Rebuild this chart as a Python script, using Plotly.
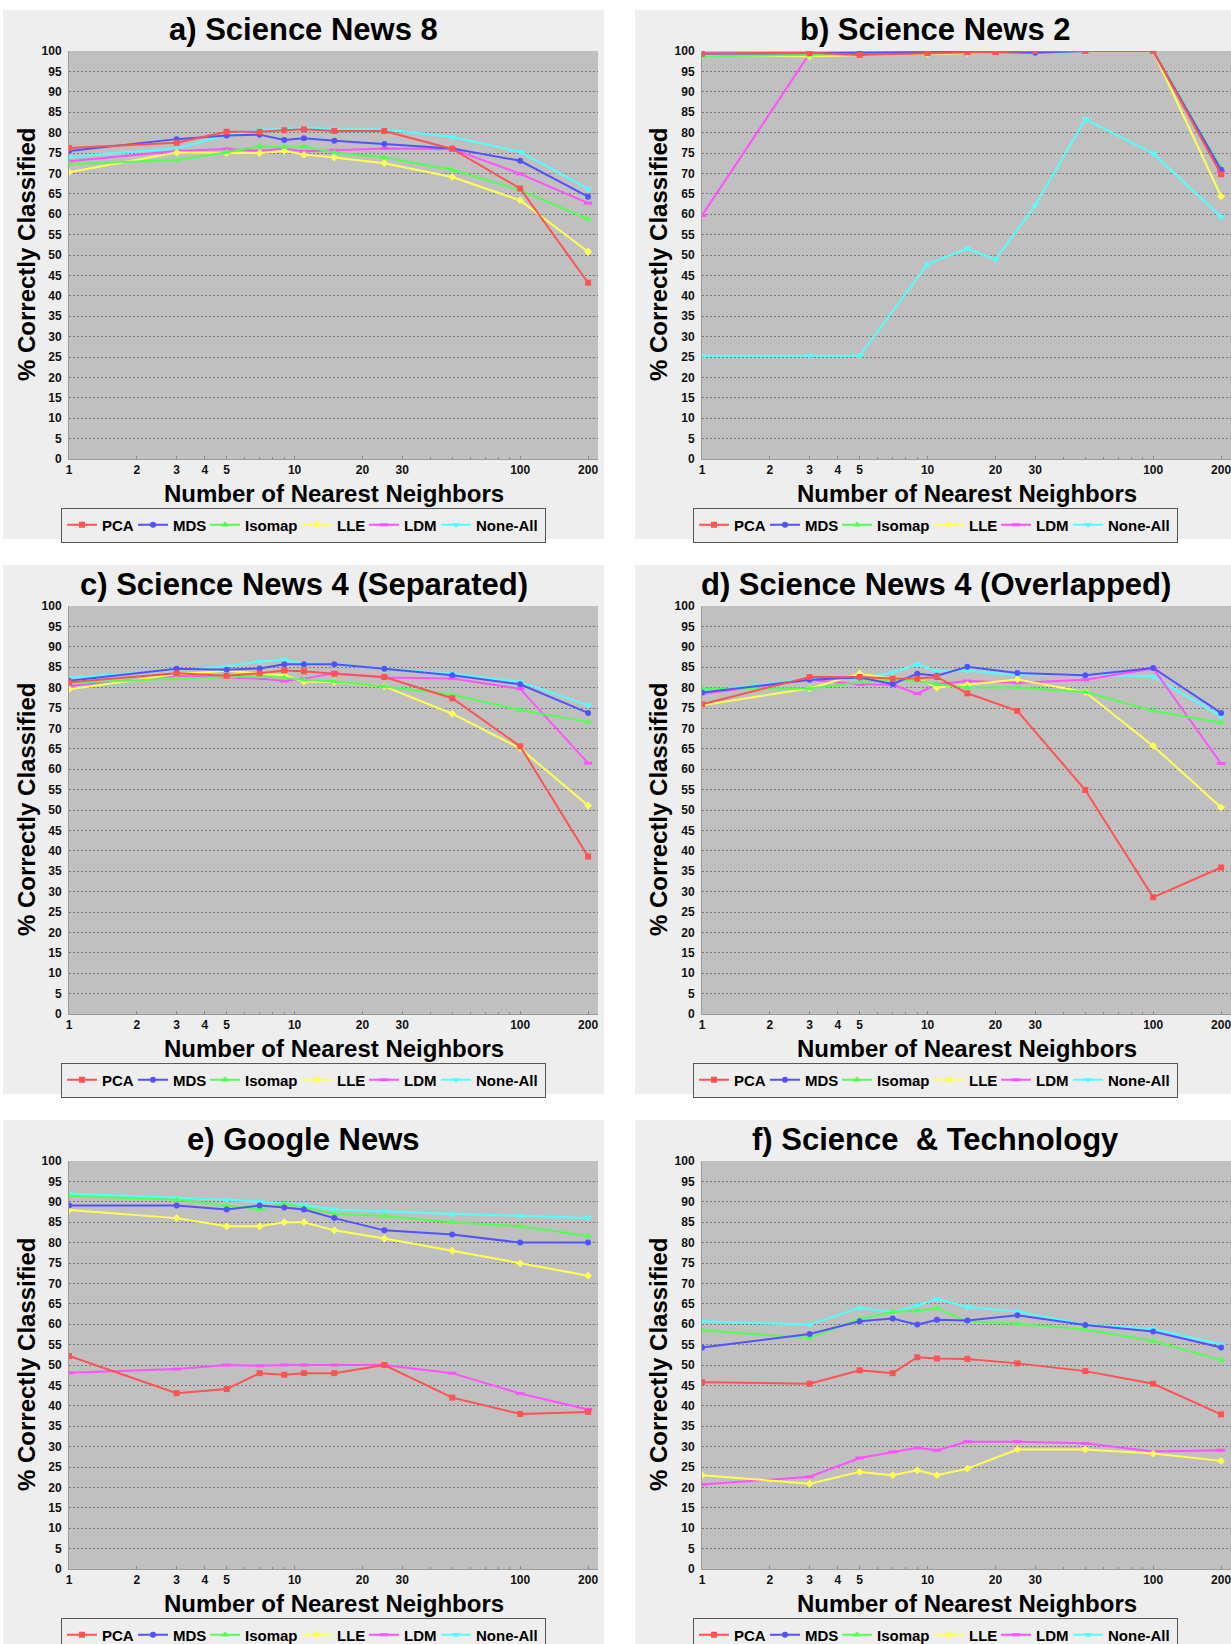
import plotly.graph_objects as go

# ---------------- data ----------------
titles = ["a) Science News 8", "b) Science News 2", "c) Science News 4 (Separated)",
          "d) Science News 4 (Overlapped)", "e) Google News", "f) Science  & Technology"]
methods = ["PCA", "MDS", "Isomap", "LLE", "LDM", "None-All"]

x_std = [1, 3, 5, 7, 9, 11, 15, 25, 50, 100, 200]
x_sn2 = [1, 3, 5, 10, 15, 20, 30, 50, 100, 200]

# a) Science News 8
a_pca = [76.2, 77.5, 80.2, 80.2, 80.6, 80.8, 80.4, 80.4, 76.0, 66.3, 43.2]
a_mds = [75.5, 78.4, 79.3, 79.5, 78.2, 78.6, 78.0, 77.2, 76.1, 73.1, 64.3]
a_iso = [72.3, 73.3, 75.2, 76.6, 76.5, 76.6, 75.1, 73.9, 70.9, 65.9, 58.8]
a_lle = [70.3, 75.1, 75.0, 75.0, 75.5, 74.6, 73.9, 72.5, 69.1, 63.4, 50.8]
a_ldm = [73.0, 75.5, 76.0, 75.5, 76.1, 75.4, 75.7, 76.1, 76.0, 69.9, 62.7]
a_none = [74.1, 76.1, 79.4, 80.7, 80.9, 81.1, 80.8, 80.8, 78.9, 75.3, 66.2]

# b) Science News 2
b_pca = [99.4, 99.6, 99.0, 99.5, 99.7, 99.7, 100, 100, 100, 69.8]
b_mds = [99.3, 99.5, 99.7, 99.7, 99.8, 99.7, 99.6, 100, 100, 70.9]
b_iso = [98.7, 99.0, 99.2, 99.4, 99.5, 99.6, 99.8, 100, 100, 71.3]
b_lle = [99.0, 98.7, 99.0, 99.3, 99.5, 99.6, 99.8, 100, 100, 64.4]
b_ldm = [59.7, 99.4, 99.2, 99.5, 99.6, 99.7, 99.8, 100, 100, 70.5]
b_none = [25.3, 25.3, 25.3, 47.8, 51.6, 48.9, 62.2, 83.3, 74.9, 59.3]

# c) Science News 4 (Separated)
c_pca = [81.3, 83.5, 82.9, 83.5, 84.2, 84.0, 83.4, 82.6, 77.4, 65.6, 38.6]
c_mds = [81.7, 84.6, 84.4, 84.7, 85.7, 85.7, 85.7, 84.6, 83.0, 80.8, 73.8]
c_iso = [81.2, 82.2, 82.6, 82.7, 82.4, 81.9, 81.5, 80.3, 78.3, 74.5, 71.6]
c_lle = [79.6, 83.3, 84.1, 83.5, 83.0, 81.5, 81.4, 80.3, 73.6, 65.1, 51.1]
c_ldm = [80.4, 82.9, 82.5, 82.2, 81.6, 82.2, 83.5, 82.5, 82.2, 79.7, 61.5]
c_none = [82.4, 84.2, 85.2, 86.4, 86.8, 85.9, 85.7, 84.6, 83.4, 81.4, 75.7]

# d) Science News 4 (Overlapped)
d_pca = [75.9, 82.6, 82.6, 82.2, 82.2, 82.6, 78.6, 74.3, 54.9, 28.6, 35.9]
d_mds = [78.8, 81.9, 82.5, 80.9, 83.4, 82.9, 85.1, 83.6, 83.0, 84.8, 73.8]
d_iso = [79.7, 79.8, 81.3, 81.9, 81.7, 80.8, 80.0, 80.0, 78.9, 74.3, 71.4]
d_lle = [75.7, 79.8, 83.4, 82.2, 82.3, 80.0, 80.7, 82.0, 78.9, 65.7, 50.6]
d_ldm = [78.5, 81.9, 80.8, 80.7, 78.5, 80.8, 81.6, 81.2, 81.9, 84.7, 61.4]
d_none = [78.9, 82.2, 82.2, 83.7, 85.7, 84.0, 84.2, 83.0, 83.2, 82.7, 73.0]

# e) Google News
e_pca = [52.2, 43.1, 44.1, 48.0, 47.6, 48.0, 48.0, 50.0, 42.0, 38.0, 38.5]
e_mds = [89.1, 89.1, 88.1, 89.1, 88.6, 88.1, 86.0, 83.0, 82.0, 80.0, 80.0]
e_iso = [91.5, 90.5, 89.1, 88.1, 89.6, 88.6, 87.1, 86.5, 85.0, 84.0, 81.6]
e_lle = [88.0, 86.0, 84.0, 84.0, 85.0, 85.0, 83.0, 81.0, 78.0, 74.9, 71.9]
e_ldm = [48.1, 49.0, 50.0, 49.8, 50.0, 50.0, 50.0, 50.0, 48.0, 43.0, 39.1]
e_none = [92.0, 91.0, 90.5, 90.0, 89.5, 89.2, 88.1, 87.6, 87.0, 86.6, 86.0]

# f) Science & Technology
f_pca = [45.8, 45.4, 48.7, 48.0, 51.9, 51.6, 51.5, 50.4, 48.5, 45.4, 37.9]
f_mds = [54.3, 57.6, 60.7, 61.4, 59.9, 61.1, 60.9, 62.2, 59.8, 58.2, 54.3]
f_iso = [58.5, 56.6, 61.3, 63.0, 63.3, 63.9, 60.7, 60.1, 58.7, 55.9, 51.2]
f_lle = [23.0, 20.9, 23.8, 23.0, 24.2, 23.0, 24.6, 29.3, 29.3, 28.3, 26.5]
f_ldm = [20.7, 22.6, 27.2, 28.7, 29.7, 29.1, 31.2, 31.2, 30.8, 28.8, 29.1]
f_none = [60.7, 59.9, 64.0, 63.0, 64.6, 66.2, 64.2, 63.1, 59.9, 58.8, 55.1]

x_tickvals = [1, 2, 3, 4, 5, 10, 20, 30, 100, 200]
x_minor = [6, 7, 8, 9, 40, 50, 60, 70, 80, 90]

panels = [
    (x_std, [a_pca, a_mds, a_iso, a_lle, a_ldm, a_none]),
    (x_sn2, [b_pca, b_mds, b_iso, b_lle, b_ldm, b_none]),
    (x_std, [c_pca, c_mds, c_iso, c_lle, c_ldm, c_none]),
    (x_std, [d_pca, d_mds, d_iso, d_lle, d_ldm, d_none]),
    (x_std, [e_pca, e_mds, e_iso, e_lle, e_ldm, e_none]),
    (x_std, [f_pca, f_mds, f_iso, f_lle, f_ldm, f_none]),
]

# ---------------- style ----------------
colors = ["#ff5252", "#5252ff", "#52ff52", "#ffff52", "#ff52ff", "#52ffff"]
symbols = ["square", "circle", "triangle-up", "diamond", "line-ew", "triangle-down"]
msizes = [6, 6, 7, 6, 6, 7]
legend_w = [26, 27, 47, 22, 27, 64]
FONT = "Liberation Sans, Arial, sans-serif"

W, H = 1231, 1644
col_plot = [(69, 598), (702, 1231)]
row_plot = [(51, 459), (606, 1014), (1161, 1569)]
col_panel = [(3, 604), (635, 1236)]


def fx(p):
    return p / W


def fy(p):
    return 1 - p / H


fig = go.Figure()
shapes, annotations = [], []
layout = dict(width=W, height=H,
              margin=dict(l=0, r=0, t=0, b=0, pad=0, autoexpand=False),
              paper_bgcolor="white", plot_bgcolor="#c0c0c0",
              font=dict(family=FONT, color="#111"), showlegend=True)

for i, (xs, series) in enumerate(panels):
    r, c = divmod(i, 2)
    k = i + 1
    sfx = "" if k == 1 else str(k)
    x0, x1 = col_plot[c]
    y0, y1 = row_plot[r]
    px0, px1 = col_panel[c]
    leg = "legend" + sfx

    # light panel background (paper) and the grey plot area on top of it
    shapes.append(dict(type="rect", xref="paper", yref="paper", layer="below",
                       x0=fx(px0), x1=fx(px1), y0=fy(y1 + 80), y1=fy(y0 - 41),
                       fillcolor="#eeeeee", line=dict(width=0)))
    shapes.append(dict(type="rect", xref="x" + sfx + " domain", yref="y" + sfx + " domain",
                       layer="below", x0=0, x1=1, y0=0, y1=1,
                       fillcolor="#c0c0c0", line=dict(width=0)))

    for m in reversed(range(6)):
        mk = dict(symbol=symbols[m], size=msizes[m], color=colors[m])
        if symbols[m] == "line-ew":
            mk["line"] = dict(color=colors[m], width=3)
        else:
            mk["line"] = dict(width=0)
        fig.add_trace(go.Scatter(
            x=xs, y=series[m], mode="lines+markers", name=methods[m],
            line=dict(color=colors[m], width=2), marker=mk,
            xaxis="x" + sfx, yaxis="y" + sfx, legend=leg,
            legendwidth=legend_w[m], hoverinfo="x+y+name"))

    layout["xaxis" + sfx] = dict(
        type="log", range=[0, 2.345], domain=[fx(x0), fx(x1)], anchor="y" + sfx,
        tickmode="array", tickvals=x_tickvals, ticktext=[str(v) for v in x_tickvals],
        ticks="inside", ticklen=3, tickcolor="#888888", showgrid=False,
        showline=True, linecolor="#9a9a9a", linewidth=1, zeroline=False,
        tickfont=dict(family=FONT, size=12, color="#111", weight="bold"),
        ticklabeloverflow="allow", automargin=False,
        minor=dict(tickmode="array", tickvals=x_minor, ticks="inside", ticklen=2,
                   tickcolor="#888888", showgrid=False),
        fixedrange=True)
    layout["yaxis" + sfx] = dict(
        range=[0, 100], domain=[fy(y1), fy(y0)], anchor="x" + sfx,
        tickmode="linear", tick0=0, dtick=5, ticks="", showgrid=True,
        gridcolor="#7a7a7a", gridwidth=1, griddash="2px,2px",
        showline=True, linecolor="#9a9a9a", linewidth=1, zeroline=False,
        tickfont=dict(family=FONT, size=12, color="#111", weight="bold"),
        ticklabelstandoff=4, automargin=False, fixedrange=True)
    layout[leg] = dict(
        x=fx((px0 + px1) / 2), xanchor="center",
        y=fy(y1 + 66), yanchor="middle", orientation="h", traceorder="reversed",
        bgcolor="#eeeeee", bordercolor="#555555", borderwidth=1,
        font=dict(family=FONT, size=15, color="#000", weight="bold"),
        itemwidth=30, itemclick=False, itemdoubleclick=False)

    annotations.append(dict(text=titles[i], xref="paper", yref="paper",
                            x=fx((px0 + px1) / 2), y=fy(y0 - 22), xanchor="center",
                            yanchor="middle", showarrow=False,
                            font=dict(family=FONT, size=31, color="#000", weight="bold")))
    annotations.append(dict(text="% Correctly Classified", xref="paper", yref="paper",
                            x=fx(px0 + 23), y=fy((y0 + y1) / 2), xanchor="center",
                            yanchor="middle", textangle=-90, showarrow=False,
                            font=dict(family=FONT, size=24, color="#000", weight="bold")))
    annotations.append(dict(text="Number of Nearest Neighbors", xref="paper", yref="paper",
                            x=fx((x0 + x1) / 2), y=fy(y1 + 34), xanchor="center",
                            yanchor="middle", showarrow=False,
                            font=dict(family=FONT, size=24, color="#000", weight="bold")))

layout["shapes"] = shapes
layout["annotations"] = annotations
fig.update_layout(**layout)
fig.write_html("out.html", config={"displayModeBar": False})
